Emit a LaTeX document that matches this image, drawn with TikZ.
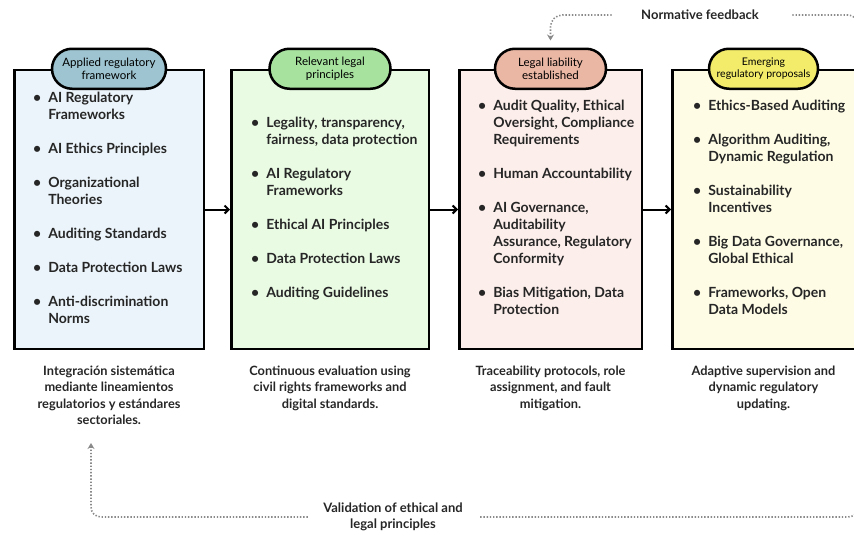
\documentclass[tikz,border=0pt]{standalone}
\usepackage{fontspec}
\setmainfont{Lato}
\usetikzlibrary{arrows.meta, positioning}
\definecolor{tagblue}{HTML}{9DC4D0}
\definecolor{taggreen}{HTML}{A7E39E}
\definecolor{tagsalmon}{HTML}{EBB7A5}
\definecolor{tagyellow}{HTML}{F3EC6A}
\definecolor{panelblue}{HTML}{EBF4FA}
\definecolor{panelgreen}{HTML}{EAFBE4}
\definecolor{panelpink}{HTML}{FCEEEA}
\definecolor{panelyellow}{HTML}{FEFCE5}
\definecolor{inkgray}{HTML}{262626}
\definecolor{dotgray}{HTML}{8A8A8A}
\tikzset{
    panel/.style={rectangle, draw=black, line width=2.5pt, minimum height=279pt},
    tag/.style={rectangle, rounded corners=20pt, draw=black, line width=2.5pt, minimum height=40pt, inner sep=2pt, align=center, font=\fontsize{11.5}{13}\selectfont},
    listtext/.style={inner sep=0pt, text=inkgray, font=\bfseries\fontsize{14}{17}\selectfont},
    note/.style={align=center, text=inkgray, font=\bfseries\fontsize{12.8}{16.5}\selectfont},
    fbtext/.style={align=center, text=inkgray, font=\bfseries\fontsize{13}{16.5}\selectfont},
    flow/.style={-{Straight Barb[length=4pt, width=8pt]}, line width=2pt, draw=black},
    fbline/.style={draw=dotgray, line width=1.6pt, dash pattern=on 1.4pt off 1.8pt},
    fbarrow/.style={fbline, -{Stealth[length=6pt, width=7pt]}}
}
\newcommand{\bul}{\textbullet}

\begin{document}
\begin{tikzpicture}[x=1pt, y=-1pt, node distance=25pt and 28pt]
    \useasboundingbox (0,0) rectangle (854,533);
    \clip (0,0) rectangle (854,533);

    % panels
    \node[panel, fill=panelblue, minimum width=189.5pt] (box1) at (109,209.5) {};
    \node[panel, fill=panelgreen, minimum width=197.5pt, right=25pt of box1] (box2) {};
    \node[panel, fill=panelpink, minimum width=182.5pt, right=of box2] (box3) {};
    \node[panel, fill=panelyellow, minimum width=182.5pt, right=of box3] (box4) {};

    \draw[flow] (box1) -- (box2);
    \draw[flow] (box2) -- (box3);
    \draw[flow] (box3) -- (box4);

    % heading tags
    \node[tag, fill=tagblue, minimum width=114pt] (tag1) at (box1.north) {Applied regulatory\\framework};
    \node[tag, fill=taggreen, minimum width=121pt] (tag2) at (box2.north) {Relevant legal\\principles};
    \node[tag, fill=tagsalmon, minimum width=111pt] (tag3) at (box3.north) {Legal liability\\established};
    \node[tag, fill=tagyellow, minimum width=109pt, font=\fontsize{10.5}{12.5}\selectfont] (tag4) at (box4.north) {Emerging\\regulatory proposals};

    % lists
    \node[listtext, right=20pt of box1.west] (list1) {\begin{tabular}{@{}l@{\hspace{7pt}}l@{}}
        \bul & AI Regulatory\\ & Frameworks\\[17pt]
        \bul & AI Ethics Principles\\[17pt]
        \bul & Organizational\\ & Theories\\[17pt]
        \bul & Auditing Standards\\[17pt]
        \bul & Data Protection Laws\\[17pt]
        \bul & Anti-discrimination\\ & Norms
    \end{tabular}};
    \node[listtext, right=21pt of box2.west] (list2) {\begin{tabular}{@{}l@{\hspace{7pt}}l@{}}
        \bul & Legality, transparency,\\ & fairness, data protection\\[17pt]
        \bul & AI Regulatory\\ & Frameworks\\[17pt]
        \bul & Ethical AI Principles\\[17pt]
        \bul & Data Protection Laws\\[17pt]
        \bul & Auditing Guidelines
    \end{tabular}};
    \node[listtext, right=20pt of box3.west] (list3) {\begin{tabular}{@{}l@{\hspace{7pt}}l@{}}
        \bul & Audit Quality, Ethical\\ & Oversight, Compliance\\ & Requirements\\[17pt]
        \bul & Human Accountability\\[17pt]
        \bul & AI Governance,\\ & Auditability\\ & Assurance, Regulatory\\ & Conformity\\[17pt]
        \bul & Bias Mitigation, Data\\ & Protection
    \end{tabular}};
    \node[listtext, right=22pt of box4.west] (list4) {\begin{tabular}{@{}l@{\hspace{7pt}}l@{}}
        \bul & Ethics-Based Auditing\\[17pt]
        \bul & Algorithm Auditing,\\ & Dynamic Regulation\\[17pt]
        \bul & Sustainability\\ & Incentives\\[17pt]
        \bul & Big Data Governance,\\ & Global Ethical\\[17pt]
        \bul & Frameworks, Open\\ & Data Models
    \end{tabular}};

    % notes under the panels
    \node[note, below=12pt of box1] (note1) {Integración sistemática\\mediante lineamientos\\regulatorios y estándares\\sectoriales.};
    \node[note, below=12pt of box2] (note2) {Continuous evaluation using\\civil rights frameworks and\\digital standards.};
    \node[note, below=12pt of box3] (note3) {Traceability protocols, role\\assignment, and fault\\mitigation.};
    \node[note, below=12pt of box4] (note4) {Adaptive supervision and\\dynamic regulatory\\updating.};

    % feedback loops
    \node[fbtext] (fbtop) at (700,15) {Normative feedback};
    \coordinate (fbend) at (858,40);
    \draw[fbarrow, rounded corners=12pt] ([xshift=-26pt]fbtop.west) -| ([yshift=7pt]tag3.north);
    \draw[fbline, rounded corners=10pt] ([xshift=30pt]fbtop.east) -| (fbend);

    \node[fbtext] (fbbottom) at (393,517) {Validation of ethical and\\legal principles};
    \coordinate (valtip) at (91,443);
    \coordinate (valend) at (858,490);
    \draw[fbarrow, rounded corners=10pt] ([xshift=-12pt]fbbottom.west) -| (valtip);
    \draw[fbline, rounded corners=10pt] ([xshift=14pt]fbbottom.east) -| (valend);
\end{tikzpicture}
\end{document}
